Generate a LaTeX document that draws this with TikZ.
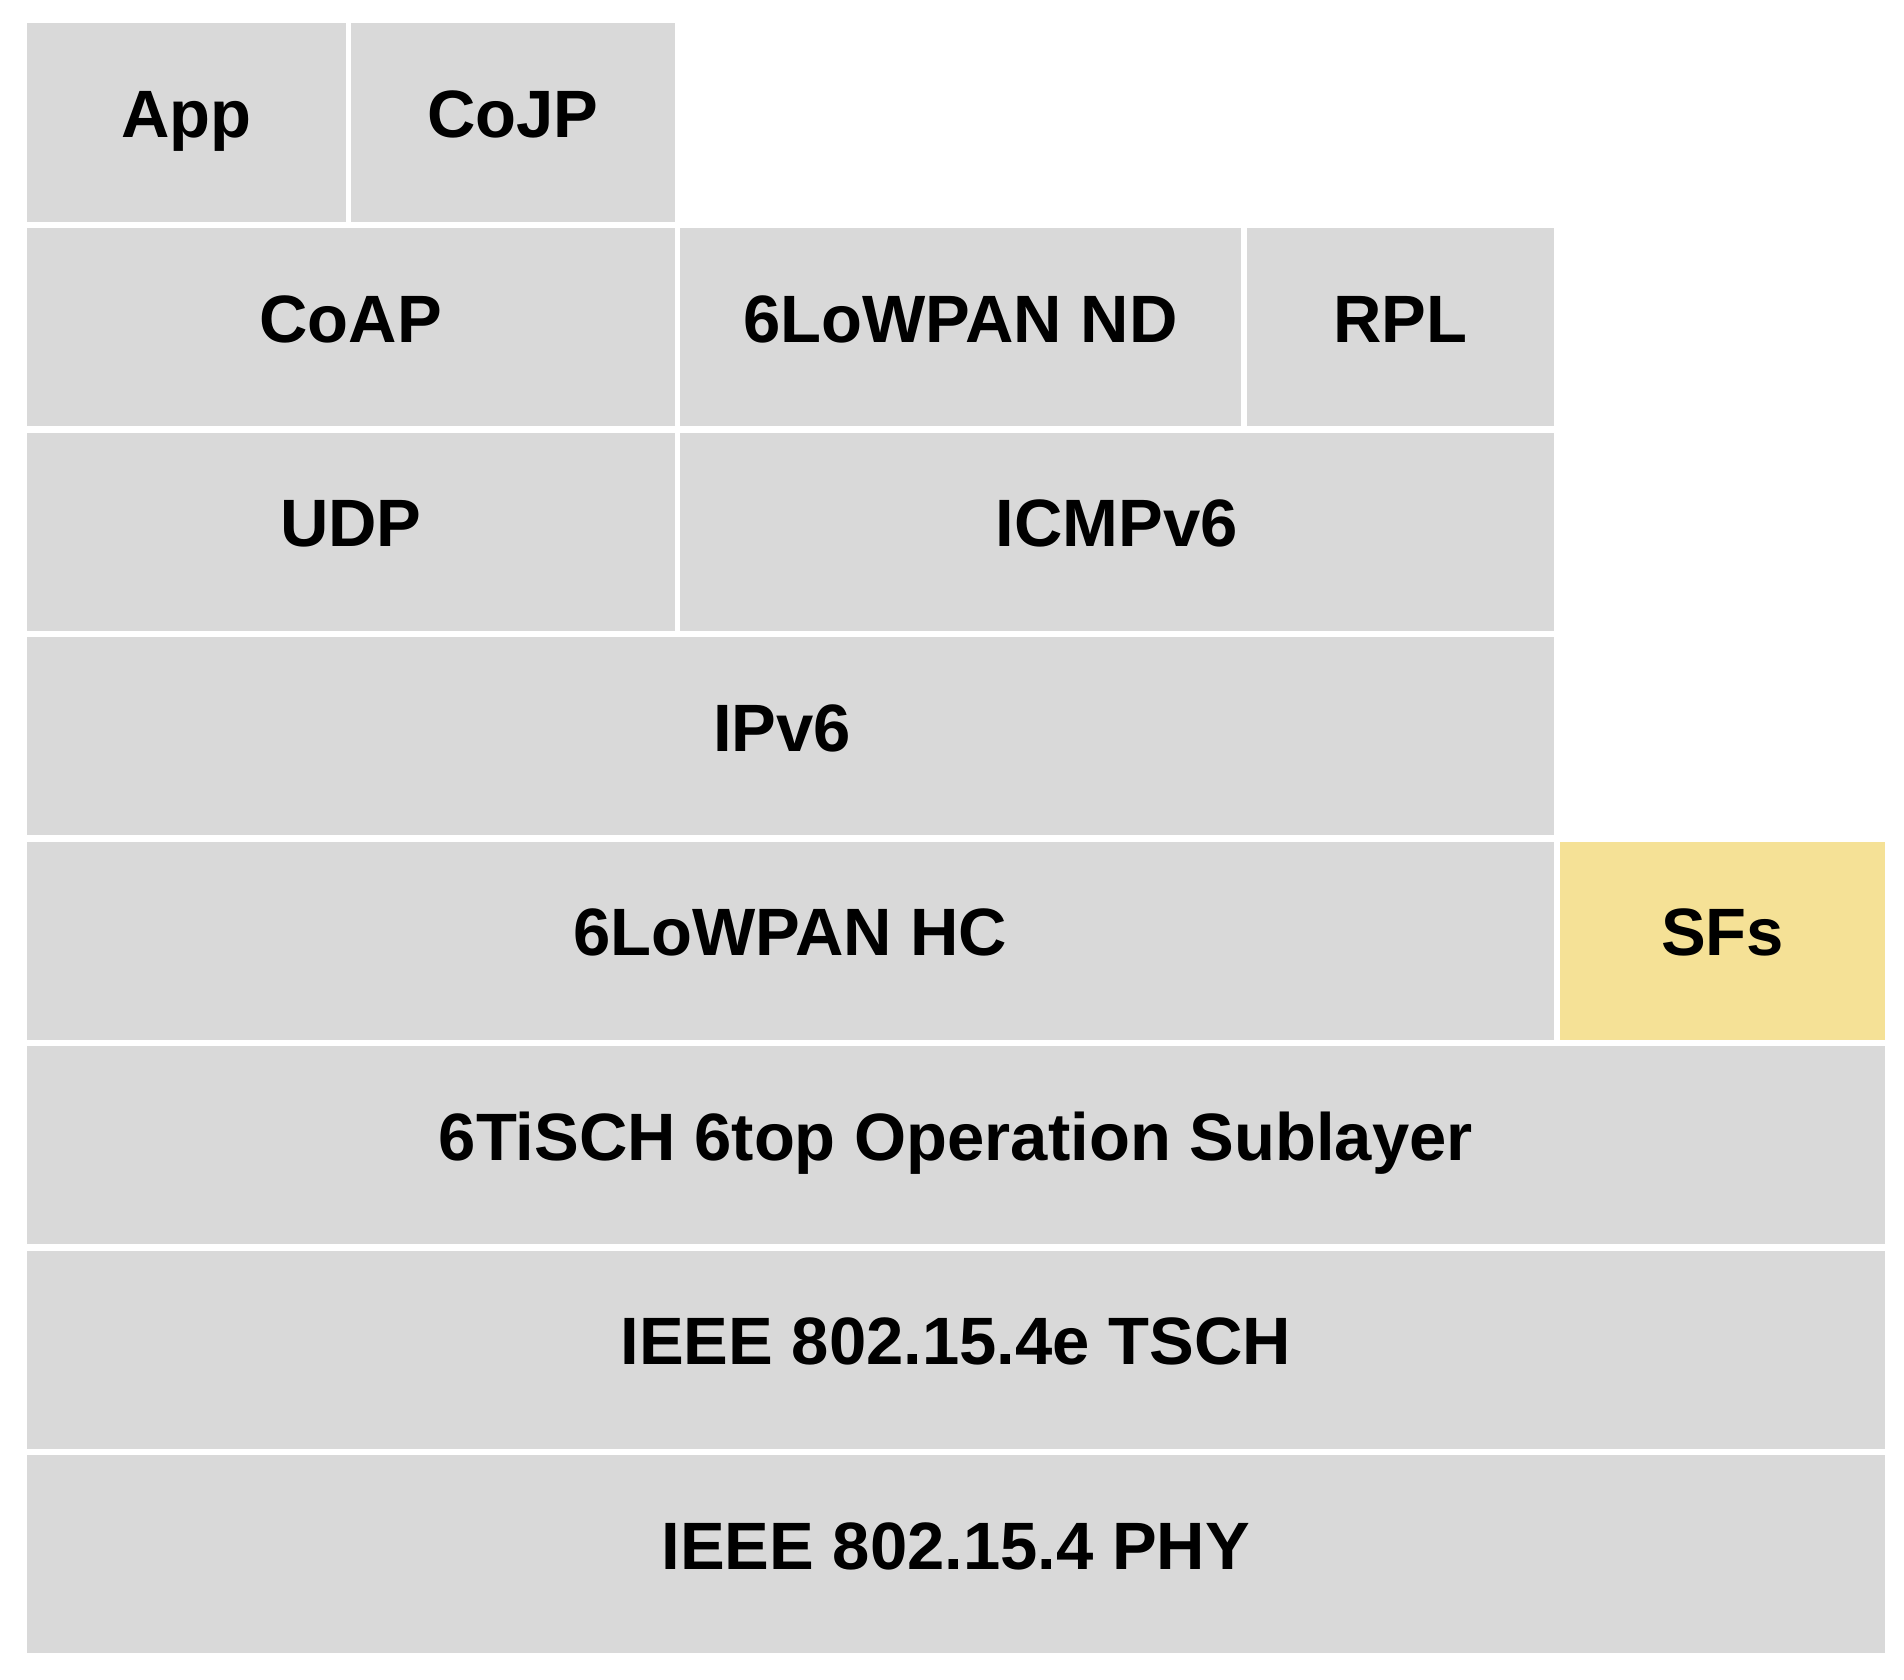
\documentclass[tikz,border=0pt]{standalone}
\usepackage{fontspec}
\setmainfont{Liberation Sans}
\usepackage{tikz}
\definecolor{laygray}{HTML}{D9D9D9}
\definecolor{sfyellow}{HTML}{F5E196}

\begin{document}
\begin{tikzpicture}[x=1pt,y=-1pt,
        layer/.style={fill=laygray, anchor=north west, inner sep=0pt, outer sep=0pt,
            minimum height=198.2pt, text height=50pt, text depth=20pt,
            font=\fontsize{67}{80}\selectfont\bfseries},
        sfbox/.style={layer, fill=sfyellow}]
        \useasboundingbox[fill=white] (0,0) rectangle (1904,1680);
        \node[layer, minimum width=319.5pt] (app) at (26.5,23.5) {App};
        \node[layer, minimum width=324pt] (cojp) at (351,23.5) {CoJP};
        \node[layer, minimum width=648.5pt] (coap) at (26.5,228) {CoAP};
        \node[layer, minimum width=561pt] (nd) at (680,228) {6LoWPAN ND};
        \node[layer, minimum width=307pt] (rpl) at (1247,228) {RPL};
        \node[layer, minimum width=648.5pt] (udp) at (26.5,432.5) {UDP};
        \node[layer, minimum width=874pt] (icmp) at (680,432.5) {ICMPv6};
        \node[layer, minimum width=1527.5pt] (ipv) at (26.5,637) {\hspace*{-16pt}IPv6};
        \node[layer, minimum width=1527.5pt] (hc) at (26.5,841.5) {6LoWPAN HC};
        \node[sfbox, minimum width=325pt] (sfs) at (1560,841.5) {SFs};
        \node[layer, minimum width=1858.5pt] (sixtop) at (26.5,1046) {6TiSCH 6top Operation Sublayer};
        \node[layer, minimum width=1858.5pt] (tsch) at (26.5,1250.5) {IEEE 802.15.4e TSCH};
        \node[layer, minimum width=1858.5pt] (phy) at (26.5,1455) {IEEE 802.15.4 PHY};
    \end{tikzpicture}
\end{document}
